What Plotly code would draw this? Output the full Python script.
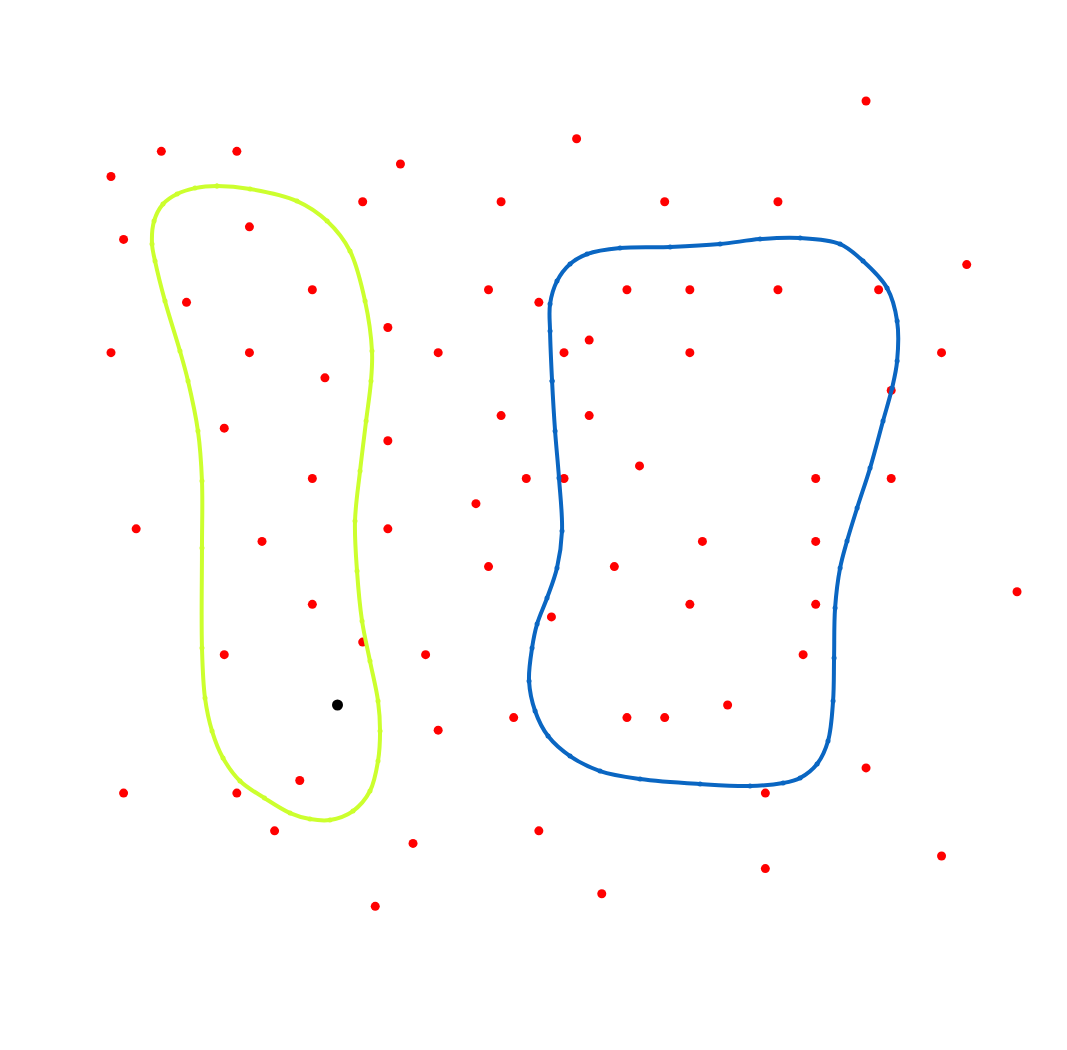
import plotly.graph_objects as go

# Red scatter points (grid units)
red_x = [69, 46, 13, 19, 32, 9, 29, 40, 53, 62, 20, 10, 77,
         25, 39, 50, 55, 62, 70, 15, 43, 31, 47,
         9, 20, 35, 45, 55, 75, 26, 71, 40, 47, 18, 31, 51,
         25, 42, 45, 65, 71, 38, 11, 31, 21, 56, 65, 39, 49,
         81, 25, 55, 65, 44, 29, 18, 34, 64, 58, 41, 50, 53,
         35, 69, 24, 10, 19, 61, 22, 43, 33, 75, 61, 48, 30]
red_y = [70, 67, 66, 66, 65, 64, 62, 62, 62, 62, 60, 59, 57,
         55, 55, 55, 55, 55, 55, 54, 54, 52, 51,
         50, 50, 50, 50, 50, 50, 48, 47, 45, 45, 44, 43, 41,
         40, 40, 40, 40, 40, 38, 36, 36, 35, 35, 35, 33, 33,
         31, 30, 30, 30, 29, 27, 26, 26, 26, 22, 21, 21, 21,
         20, 17, 16, 15, 15, 15, 12, 12, 11, 10, 9, 7, 6]

# Yellow-green closed curve
yel_x = [17.42, 20.05, 23.78, 26.17, 27.99, 29.19, 29.74, 29.66, 29.27, 28.79,
         28.39, 28.55, 28.95, 29.58, 30.22, 30.38, 30.22, 29.58, 28.23, 26.40,
         24.81, 23.23, 21.20, 19.25, 17.90, 17.03, 16.47, 16.23, 16.23, 16.23,
         15.91, 15.12, 14.48, 13.29, 12.50, 12.26, 12.42, 13.13, 14.25, 15.68, 17.42]
yel_y = [63.24, 63.01, 62.05, 60.46, 58.08, 54.10, 50.13, 47.75, 44.57, 40.59,
         36.62, 32.65, 28.67, 25.49, 22.32, 19.93, 17.55, 15.16, 13.57, 12.86,
         12.94, 13.41, 14.60, 15.96, 17.79, 19.93, 22.55, 26.53, 34.47, 39.80,
         43.77, 47.75, 50.13, 54.10, 57.28, 58.63, 60.46, 61.81, 62.61, 63.08, 63.24]

# Blue closed curve
blu_x = [44.05, 43.89, 43.89, 44.44, 45.48, 46.83, 49.45, 53.43, 57.40, 60.58,
         63.76, 66.94, 68.76, 70.67, 71.47, 71.47, 71.07, 70.35, 69.32, 68.29,
         67.49, 66.94, 66.54, 66.46, 66.38, 65.98, 65.11, 63.76, 62.41, 59.78,
         55.81, 51.04, 47.86, 45.48, 43.73, 42.70, 42.22, 42.46, 42.86, 43.65,
         44.44, 44.84, 44.60, 44.29, 44.05]
blu_y = [47.75, 51.72, 53.87, 55.69, 57.05, 57.84, 58.32, 58.40, 58.63, 59.03,
         59.11, 58.63, 57.28, 55.14, 52.51, 49.34, 47.19, 44.57, 40.83, 37.65,
         35.03, 32.89, 29.71, 25.73, 22.32, 19.14, 17.31, 16.20, 15.80, 15.56,
         15.72, 16.12, 16.75, 17.94, 19.53, 21.52, 23.91, 26.53, 28.44, 30.50,
         32.89, 35.83, 40.04, 43.77, 47.75]

black_x = [27]
black_y = [22]

fig = go.Figure()
fig.add_trace(go.Scatter(x=red_x, y=red_y, mode="markers",
                         marker=dict(color="#ff0000", size=9), showlegend=False))
fig.add_trace(go.Scatter(x=yel_x, y=yel_y, mode="lines+markers",
                         line=dict(color="#ccff2e", width=4, shape="spline", smoothing=1),
                         marker=dict(color="#ccff2e", size=5), showlegend=False))
fig.add_trace(go.Scatter(x=blu_x, y=blu_y, mode="lines+markers",
                         line=dict(color="#0a66c2", width=4, shape="spline", smoothing=1),
                         marker=dict(color="#0a66c2", size=5), showlegend=False))
fig.add_trace(go.Scatter(x=black_x, y=black_y, mode="markers",
                         marker=dict(color="#000000", size=11), showlegend=False))

fig.update_layout(width=1067, height=1050, margin=dict(l=0, r=0, t=0, b=0),
                  paper_bgcolor="white", plot_bgcolor="white",
                  xaxis=dict(range=[0.179, 84.97], visible=False),
                  yaxis=dict(range=[-5.42, 78.03], visible=False))
fig.write_html("out.html")
